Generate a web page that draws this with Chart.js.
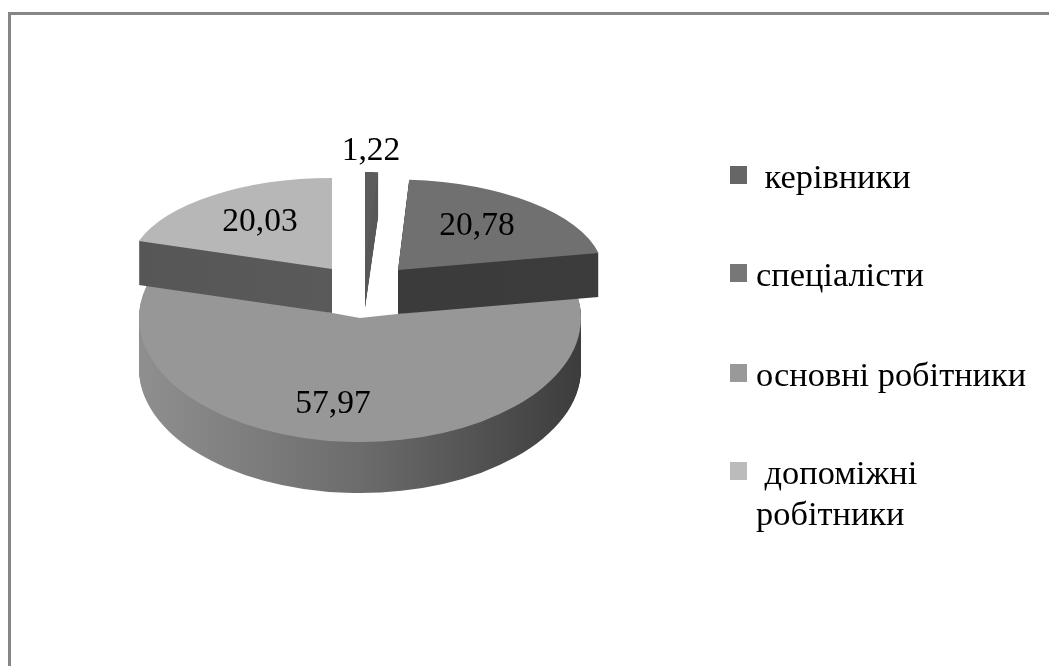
<!DOCTYPE html>
<html lang="uk">
<head>
<meta charset="utf-8">
<title>Структура персоналу</title>
<script src="https://cdn.jsdelivr.net/npm/chart.js@4/dist/chart.umd.min.js"></script>
<style>
    html, body { margin: 0; background: #fff; overflow: hidden; }
    #wrap { position: relative; width: 1049px; height: 666px; filter: blur(0.5px); }
    #frame { position: absolute; left: 8px; top: 12px; right: -4px; bottom: -4px; border-left: 3px solid #868686; border-top: 3px solid #868686; pointer-events: none; }
</style>
</head>
<body>
<div id="wrap">
    <canvas id="chart" width="1049" height="666"></canvas>
    <div id="frame"></div>
</div>
<script>
const categories = ['керівники', 'спеціалісти', 'основні робітники', 'допоміжні робітники'];
const shares = [1.22, 20.78, 57.97, 20.03];
const valueLabels = ['1,22', '20,78', '57,97', '20,03'];
const legendLines = [[' керівники'], ['спеціалісти'], ['основні робітники'], [' допоміжні', 'робітники']];

const topColors = ['#5c5c5c', '#707070', '#979797', '#b7b7b7'];
const legendColors = ['#666666', '#777777', '#999999', '#bbbbbb'];
// wall shading, left to right across each slice
const wallColors = [
    ['#585858', '#585858'],
    ['#3a3a3a', '#3c3c3c'],
    ['#8f8f8f', '#6c6c6c', '#3c3c3c'],
    ['#565656', '#5e5e5e'],
];

// exploded 3D look: where each wedge's tip lands and how it is squashed
const BASE_RADIUS = 100;
const sliceViews = [
    { x: 365, y: 264, rx: 172, ry: 92, skew: 0, depth: 44 },
    { x: 398, y: 270, rx: 205, ry: 90.5, skew: 0.05, depth: 44 },
    { x: 360, y: 318, rx: 221, ry: 124, skew: 0, depth: 51 },
    { x: 332, y: 269, rx: 203, ry: 91, skew: 0, depth: 44 },
];
const drawOrder = [2, 3, 1, 0];
const labelSpots = [[371, 160], [477, 235], [333, 413], [260, 231]];
const legendRows = [175, 273, 373, 471];

const LABEL_FONT = '33.5px "Liberation Serif"';
const LEGEND_FONT = '34.4px "Liberation Serif"';

const wallFill = (ctx, el, colors) => {
    const g = ctx.createLinearGradient(el.x - BASE_RADIUS, 0, el.x + BASE_RADIUS, 0);
    colors.forEach((c, i) => g.addColorStop(i / (colors.length - 1), c));
    return g;
};

const drawSliceAt = (ctx, el, view, shift, fill) => {
    const saved = el.options;
    el.options = Object.assign({}, saved, { backgroundColor: fill });
    ctx.save();
    ctx.translate(view.x, view.y + shift);
    ctx.transform(1, 0, view.skew, 1, 0, 0);
    ctx.scale(view.rx / BASE_RADIUS, view.ry / BASE_RADIUS);
    ctx.translate(-el.x, -el.y);
    el.draw(ctx);
    ctx.restore();
    el.options = saved;
};

const pie3d = {
    id: 'pie3d',
    beforeDatasetsDraw(chart) {
        const { ctx } = chart;
        const arcs = chart.getDatasetMeta(0).data;
        drawOrder.forEach((i) => {
            const view = sliceViews[i];
            const wall = wallFill(ctx, arcs[i], wallColors[i]);
            for (let d = view.depth; d > 0; d--) {
                drawSliceAt(ctx, arcs[i], view, d, wall);
            }
            drawSliceAt(ctx, arcs[i], view, 0, topColors[i]);
        });
        return false;
    },
    afterDraw(chart) {
        const { ctx } = chart;
        ctx.save();
        ctx.fillStyle = '#000';
        ctx.font = LABEL_FONT;
        ctx.textBaseline = 'alphabetic';
        ctx.textAlign = 'center';
        valueLabels.forEach((t, i) => ctx.fillText(t, labelSpots[i][0], labelSpots[i][1]));

        ctx.font = LEGEND_FONT;
        ctx.textAlign = 'left';
        legendLines.forEach((lines, i) => {
            const mid = legendRows[i];
            ctx.fillStyle = legendColors[i];
            ctx.fillRect(730, mid - 9, 17, 18);
            ctx.fillStyle = '#000';
            lines.forEach((line, n) => ctx.fillText(line, 756, mid + 13 + n * 41));
        });
        ctx.restore();
    },
};

new Chart(document.getElementById('chart'), {
    type: 'pie',
    data: {
        labels: categories,
        datasets: [{ data: shares, backgroundColor: topColors, borderWidth: 0, radius: BASE_RADIUS }],
    },
    options: {
        responsive: false,
        animation: false,
        rotation: 0,
        plugins: { legend: { display: false }, tooltip: { enabled: false } },
    },
    plugins: [pie3d],
});
</script>
</body>
</html>
